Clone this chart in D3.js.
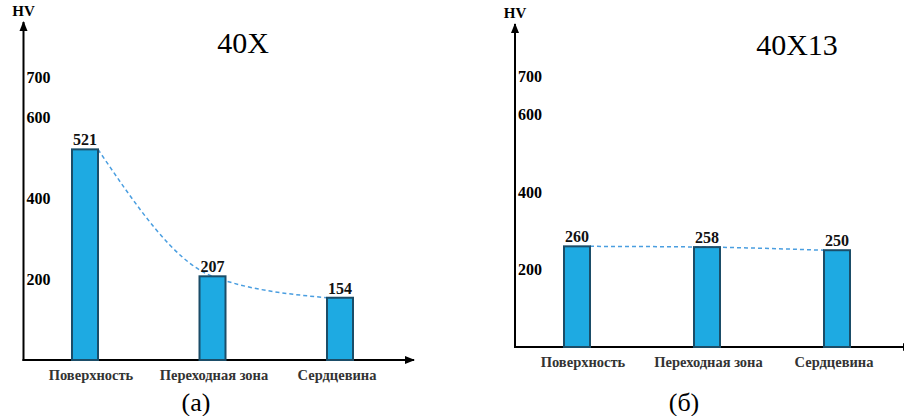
<!DOCTYPE html>
<html><head><meta charset="utf-8">
<script src="https://cdn.jsdelivr.net/npm/d3@7"></script>
<style>body{margin:0;background:#fff}svg{display:block}
svg text{font-family:"Liberation Serif","Times New Roman",Tinos,"DejaVu Serif","Noto Serif",serif;}
</style>
</head><body>
<svg id="c" width="904" height="416"></svg>
<script>
const categories = ["Поверхность", "Переходная зона", "Сердцевина"];
const values40X = [521, 207, 154];
const values40X13 = [260, 258, 250];
const tickValues = [200, 400, 600, 700];
const titles = ["40X", "40X13"];
const captions = ["(a)", "(б)"];
const yLabel = "HV";

const svg = d3.select("#c");
const defs = svg.append("defs");
defs.append("marker").attr("id","arr").attr("viewBox","0 0 10 10").attr("refX",9).attr("refY",5)
  .attr("markerWidth",5).attr("markerHeight",5).attr("orient","auto")
  .append("path").attr("d","M0,1L10,5L0,9Z").attr("fill","#000");

function drawChart(o, values, title, caption) {
  const g = svg.append("g");
  const y = d3.scaleLinear().domain([0, 700]).range([o.base, o.y700]);
  const x = d3.scalePoint().domain(categories).range([o.x0, o.x1]);
  const xl = d3.scalePoint().domain(categories).range([o.x0 + 6, o.x1 - 3]);
  const bw = 26;

  g.append("line").attr("x1", o.ax).attr("x2", o.ax).attr("y1", o.base + 1).attr("y2", o.axTop)
    .attr("stroke","#000").attr("stroke-width",2).attr("marker-end","url(#arr)");
  g.append("line").attr("x1", o.ax - 1).attr("x2", o.axRight).attr("y1", o.base).attr("y2", o.base)
    .attr("stroke","#000").attr("stroke-width",2).attr("marker-end","url(#arr)");

  g.append("text").attr("x", o.ax).attr("y", o.axTop - 6).attr("text-anchor","middle")
    .attr("font-weight","bold").attr("font-size",15).text(yLabel);

  g.selectAll(".tk").data(tickValues).join("text").attr("class","tk")
    .attr("x", o.ax + 3).attr("y", d => y(d)).attr("dy","0.35em")
    .attr("font-weight","bold").attr("font-size",16).text(d => d);

  const pts = values.map((v, i) => {
    const cx = x(categories[i]);
    const px = i === 0 ? cx + bw/2 : (i === values.length - 1 ? cx - bw/2 : cx);
    return [px, y(v)];
  });
  g.append("path").attr("d", d3.line().curve(d3.curveMonotoneX)(pts))
    .attr("fill","none").attr("stroke","#4a9ee0").attr("stroke-width",1.5).attr("stroke-dasharray","4,3");

  g.selectAll(".bar").data(values).join("rect").attr("class","bar")
    .attr("x", (d, i) => x(categories[i]) - bw/2).attr("y", d => y(d))
    .attr("width", bw).attr("height", d => o.base - y(d))
    .attr("fill","#1eaae2").attr("stroke","#1b4d68").attr("stroke-width",2);

  g.selectAll(".vl").data(values).join("text").attr("class","vl")
    .attr("x", (d, i) => x(categories[i])).attr("y", d => y(d) - 4).attr("text-anchor","middle")
    .attr("font-weight","bold").attr("font-size",16).attr("fill","#111").text(d => d);

  g.selectAll(".cl").data(categories).join("text").attr("class","cl")
    .attr("x", d => xl(d)).attr("y", o.base + 20).attr("text-anchor","middle")
    .attr("font-weight","bold").attr("font-size",14.5).attr("fill","#333").text(d => d);

  g.append("text").attr("x", o.titleX).attr("y", o.titleY).attr("text-anchor","middle")
    .attr("font-size",30).text(title);

  g.append("text").attr("x", o.capX).attr("y", 411).attr("text-anchor","middle")
    .attr("font-size",26).text(caption);
}

drawChart({ax:23.5, axTop:22, axRight:414, base:360, y700:77, x0:85, x1:340, titleX:243, titleY:53, capX:196},
  values40X, titles[0], captions[0]);
drawChart({ax:515, axTop:24, axRight:912, base:347, y700:76, x0:577, x1:837, titleX:797, titleY:55, capX:684},
  values40X13, titles[1], captions[1]);
</script>
</body></html>
